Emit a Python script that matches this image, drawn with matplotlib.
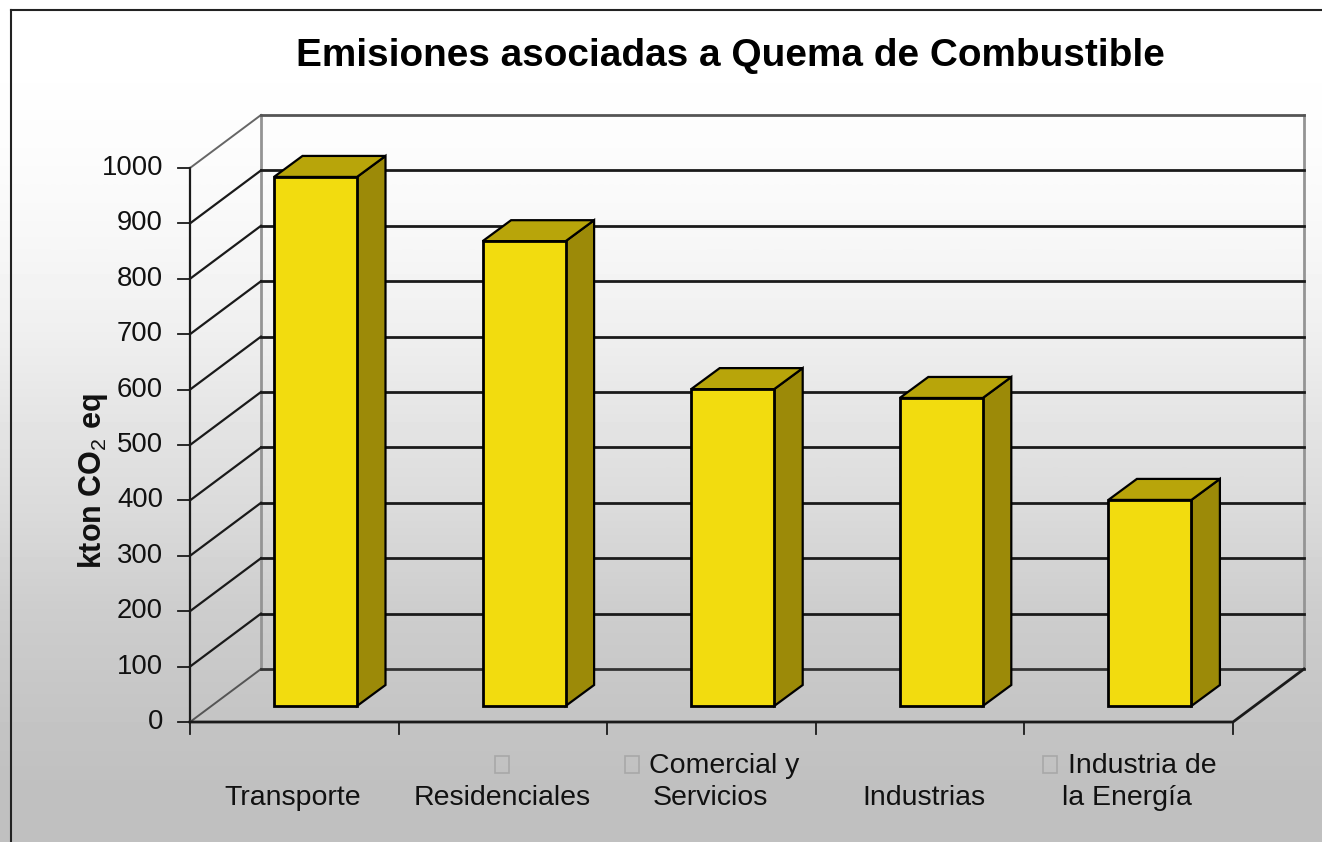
import numpy as np
import matplotlib
matplotlib.use('Agg')
import matplotlib.pyplot as plt
from matplotlib.patches import Polygon

# values (kton CO2 eq)
categories = [['Transporte'], ['Residenciales'], ['Comercial y', 'Servicios'], ['Industrias'], ['Industria de', 'la Energía']]
values = [955, 839, 572, 556, 372]
y_ticks = [0, 100, 200, 300, 400, 500, 600, 700, 800, 900, 1000]

W, H = 1322, 842
x0_px, x1_px = 190, 1233
y0_px, y1000_px = 722, 168
px_x = (x1_px - x0_px) / 5
px_y = (y0_px - y1000_px) / 1000


def cx(p):
    return (p - x0_px) / px_x


def cy(p):
    return (y0_px - p) / px_y


plt.rcParams['font.family'] = ['Liberation Sans', 'DejaVu Sans']
plt.rcParams['mathtext.fontset'] = 'custom'
plt.rcParams['mathtext.rm'] = 'Liberation Sans'
fig = plt.figure(figsize=(W / 100, H / 100), dpi=100)
ax = fig.add_axes([0, 0, 1, 1])
ax.axis('off')

# background gradient, top to bottom
grad = np.array([[1.0], [0.99], [0.97], [0.94], [0.895], [0.855], [0.805], [0.775], [0.75]])
ax.imshow(grad, cmap='gray', vmin=0, vmax=1, aspect='auto', interpolation='bilinear',
          extent=[cx(0), cx(W), cy(H), cy(0)], zorder=0)
ax.set_xlim(cx(0), cx(W))
ax.set_ylim(cy(H), cy(0))

# outer border
ax.plot([cx(11), cx(11)], [cy(H), cy(10)], color='#222222', lw=1.5, zorder=1)
ax.plot([cx(11), cx(W)], [cy(10), cy(10)], color='#222222', lw=1.5, zorder=1)

# depth of the 3d box
dx = cx(261) - cx(190)
dy = 53 / px_y
ln = '#1a1a1a'

# walls and gridlines
ax.plot([dx, dx], [dy, 1000 + dy], color='#949494', lw=2, zorder=2)
ax.plot([5 + dx, 5 + dx], [dy, 1000 + dy], color='#949494', lw=2, zorder=2)
ax.plot([0, 0], [0, 1000], color=ln, lw=1.6, zorder=2)
for t in y_ticks:
    if t == 1000:
        ax.plot([0, dx], [t, t + dy], color='#666666', lw=1.4, zorder=2)
        ax.plot([dx, 5 + dx], [t + dy, t + dy], color='#555555', lw=2, zorder=2)
    elif t == 0:
        ax.plot([0, dx], [t, t + dy], color='#555555', lw=1.4, zorder=2)
        ax.plot([dx, 5 + dx], [t + dy, t + dy], color='#333333', lw=2, zorder=2)
    else:
        ax.plot([0, dx], [t, t + dy], color=ln, lw=1.6, zorder=2)
        ax.plot([dx, 5 + dx], [t + dy, t + dy], color=ln, lw=2, zorder=2)
    ax.plot([cx(178), 0], [t, t], color=ln, lw=1.3, zorder=2)
    ax.text(cx(163), t, str(t), ha='right', va='center', fontsize=19.8, color='#111111')
ax.plot([0, 5, 5 + dx], [0, 0, dy], color=ln, lw=2, zorder=2)
for i in range(6):
    ax.plot([i, i], [0, -22], color=ln, lw=1.3, zorder=2)

# bars
bar_w = 83 / px_x
bar_off = cx(274)
base = (722 - 706) / px_y
ddx = 28.5 / px_x
ddy = 21 / px_y
for i, v in enumerate(values):
    xl = bar_off + i
    xr = xl + bar_w
    top = base + v
    ax.add_patch(Polygon([(xr, base), (xr + ddx, base + ddy), (xr + ddx, top + ddy), (xr, top)],
                         fc='#9c8a08', ec='black', lw=1.6, zorder=3))
    ax.add_patch(Polygon([(xl, top), (xl + ddx, top + ddy), (xr + ddx, top + ddy), (xr, top)],
                         fc='#b8a50a', ec='black', lw=1.6, zorder=3))
    ax.add_patch(Polygon([(xl, base), (xr, base), (xr, top), (xl, top)],
                         fc='#f2dc0f', ec='black', lw=2, zorder=4))

# category labels, one text per line
label_x = [[293], [502], [724, 710], [924], [1142, 1127]]
label_y = [[798], [798], [766, 798], [798], [766, 798]]
for lines, xs, ys in zip(categories, label_x, label_y):
    for name, lx, ly in zip(lines, xs, ys):
        ax.text(cx(lx), cy(ly), name, ha='center', va='center', fontsize=20.5, color='#111111')


# missing glyph boxes in front of some labels
def glyph_box(px, py):
    ax.add_patch(Polygon([(cx(px), cy(py)), (cx(px + 14), cy(py)), (cx(px + 14), cy(py + 17)), (cx(px), cy(py + 17))],
                         fc='none', ec='#a8a8a8', lw=1.2, zorder=5))


glyph_box(495, 756)
glyph_box(625, 756)
glyph_box(1043, 756)

ax.text(cx(93), cy(481), r'kton CO$_{\mathrm{2}}$ eq', rotation=90, ha='center', va='center',
        fontsize=22, fontweight='bold', color='#111111')
ax.text(cx(730), cy(56), 'Emisiones asociadas a Quema de Combustible', ha='center', va='center',
        fontsize=27.9, fontweight='bold', color='black')

fig.savefig('out.png', dpi=100)
